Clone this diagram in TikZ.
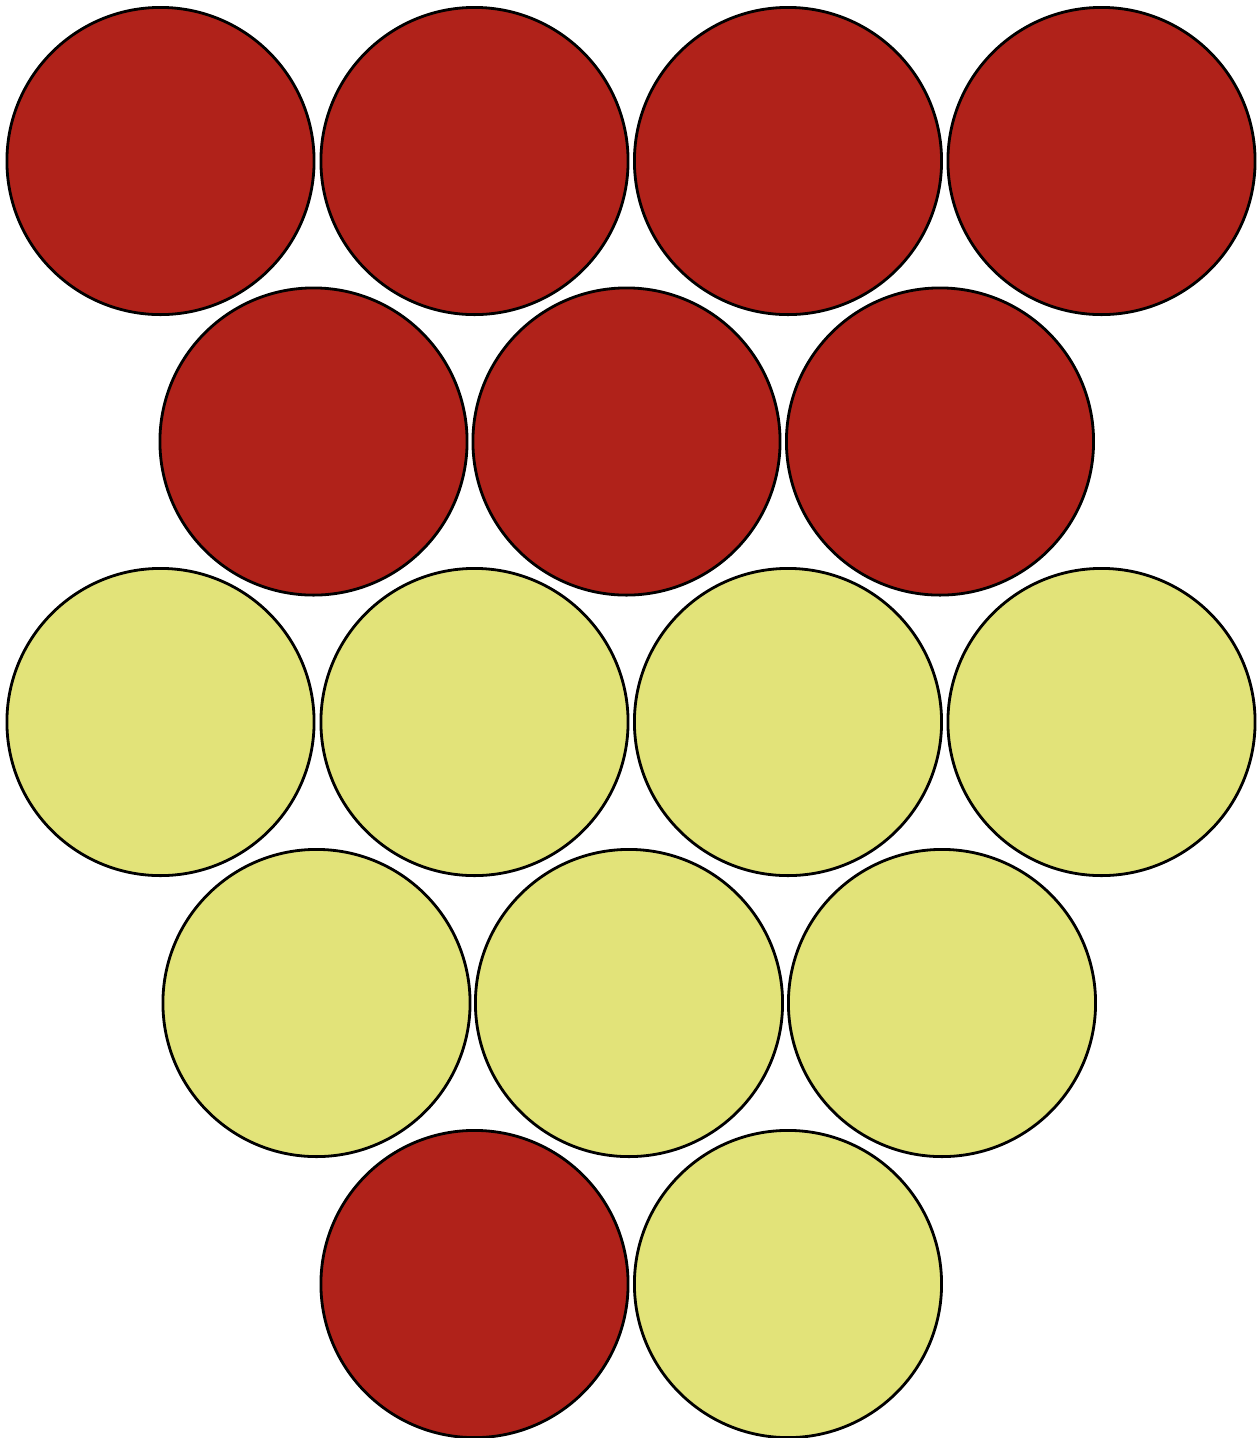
\documentclass[tikz,border=0pt]{standalone}
\usepackage{tikz}
\definecolor{brick}{RGB}{176,34,26}
\definecolor{straw}{RGB}{226,227,121}

\tikzset{
  disc/.style={circle,draw=black,line width=0.8pt,minimum size=3.07cm,inner sep=0pt},
  reddisc/.style={disc,fill=brick},
  yellowdisc/.style={disc,fill=straw}
}

\begin{document}
\begin{tikzpicture}[x=0.01cm,y=-0.01cm]
    \useasboundingbox (0,0) rectangle (1260,1438);
    % top two rows
    \foreach \cx [count=\i] in {160.5,474.5,788,1101.5}
      \node[reddisc] (r1\i) at (\cx,161) {};
    \foreach \cx [count=\i] in {313.5,626.5,940}
      \node[reddisc] (r2\i) at (\cx,441.5) {};
    % middle rows
    \foreach \cx [count=\i] in {160.5,474.5,788,1101.5}
      \node[yellowdisc] (y1\i) at (\cx,722) {};
    \foreach \cx [count=\i] in {316.5,629,942}
      \node[yellowdisc] (y2\i) at (\cx,1003) {};
    % bottom pair
    \node[reddisc] (r31) at (474.5,1284) {};
    \node[yellowdisc] (y31) at (788,1284) {};
  \end{tikzpicture}
\end{document}
